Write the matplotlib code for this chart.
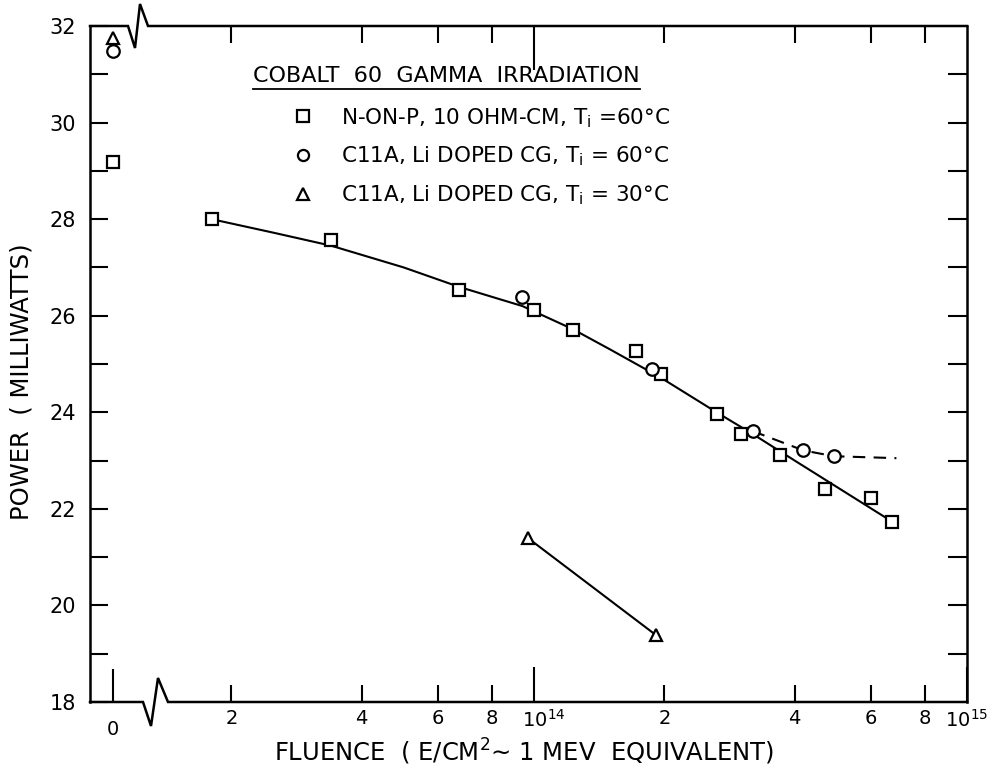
import matplotlib
matplotlib.use("Agg")
import matplotlib.pyplot as plt
from matplotlib.lines import Line2D
from matplotlib.ticker import FixedLocator, FixedFormatter, NullFormatter
from matplotlib.transforms import IdentityTransform, ScaledTranslation

plt.rcParams['font.family'] = ['DejaVu Sans']
plt.rcParams['mathtext.fontset'] = 'dejavusans'

# ---------------- data ----------------
zero_flu = [0.0]
zero_sq_pow = [29.18]
zero_circ_pow = [31.49]
zero_tri_pow = [31.75]

sq_flu = [1.8e13, 3.4e13, 6.7e13, 1.0e14, 1.23e14, 1.72e14, 1.96e14,
          2.64e14, 3.0e14, 3.7e14, 4.7e14, 6.0e14, 6.7e14]
sq_pow = [28.0, 27.57, 26.54, 26.12, 25.71, 25.27, 24.79,
          23.97, 23.56, 23.11, 22.41, 22.22, 21.73]

circ_flu = [9.4e13, 1.87e14, 3.2e14, 4.19e14, 4.93e14]
circ_pow = [26.38, 24.90, 23.61, 23.21, 23.09]

tri_flu = [9.7e13, 1.91e14]
tri_pow = [21.39, 19.39]

# hand-drawn fit through the N-on-P points
fit_flu = [1.8e13, 2.5e13, 3.4e13, 5.0e13, 6.7e13, 9.4e13, 1.23e14,
           1.5e14, 1.96e14, 2.64e14, 3.2e14, 4.0e14, 6.73e14]
fit_pow = [28.0, 27.72, 27.45, 27.0, 26.6, 26.2, 25.72,
           25.3, 24.72, 24.0, 23.55, 23.0, 21.73]

# dashed curve through the Li-doped (60 C) points
dash_flu = [3.2e14, 4.19e14, 4.93e14, 6.87e14]
dash_pow = [23.61, 23.21, 23.09, 23.05]

series_labels = ["N-ON-P, 10 OHM-CM, T$_\\mathregular{i}$ =60°C",
                 "C11A, Li DOPED CG, T$_\\mathregular{i}$ = 60°C",
                 "C11A, Li DOPED CG, T$_\\mathregular{i}$ = 30°C"]
title_text = "COBALT  60  GAMMA  IRRADIATION"
ylabel_text = "POWER  ( MILLIWATTS)"
xlabel_text = "FLUENCE  ( E/CM$^2$∼ 1 MEV  EQUIVALENT)"

y_major = [18, 20, 22, 24, 26, 28, 30, 32]
y_minor = [19, 21, 23, 25, 27, 29, 31]
x_minor = [2e13, 4e13, 6e13, 8e13, 2e14, 4e14, 6e14, 8e14]
x_minor_labels = ["2", "4", "6", "8", "2", "4", "6", "8"]
x_major = [1e14, 1e15]
x_major_labels = ["$10^{14}$", "$10^{15}$"]

# ---------------- layout ----------------
W, H = 997, 779
fig = plt.figure(figsize=(W / 100, H / 100), dpi=100)
fig.patch.set_facecolor('white')

def fx(px):
    return px / W

def fy(py):
    return 1 - py / H

left_px, right_px, top_px, bot_px = 90, 967, 26, 702
split_px = 136
decade_px = 433.0
e13_px = 101.0

ax0 = fig.add_axes([fx(left_px), fy(bot_px), (split_px - left_px) / W, (bot_px - top_px) / H])
ax = fig.add_axes([fx(split_px), fy(bot_px), (right_px - split_px) / W, (bot_px - top_px) / H])

lw = 1.5
mkw = dict(ls='none', ms=9, mfc='white', mec='black', mew=1.6, zorder=4, clip_on=False)

# ----- zero-fluence axis -----
ax0.set_xlim(-1, 1)
ax0.set_ylim(18, 32)
for s in ['top', 'bottom', 'right']:
    ax0.spines[s].set_visible(False)
ax0.spines['left'].set_linewidth(1.8)
ax0.patch.set_visible(False)
ax0.yaxis.set_major_locator(FixedLocator(y_major))
ax0.yaxis.set_minor_locator(FixedLocator(y_minor))
ax0.tick_params(axis='y', which='both', direction='in', length=13, width=1.5,
                labelsize=15, pad=10)
ax0.set_xticks(zero_flu)
ax0.set_xticklabels(["0"])
ax0.tick_params(axis='x', which='both', direction='in', length=24, width=1.5,
                labelsize=14, pad=13, top=False)
ax0.plot(zero_flu, zero_sq_pow, marker='s', **mkw)
ax0.plot(zero_flu, zero_circ_pow, marker='o', **mkw)
ax0.plot(zero_flu, zero_tri_pow, marker='^', **mkw)

# ----- main log axis -----
ax.set_xscale('log')
ax.set_xlim(10 ** (13 + (split_px - e13_px) / decade_px), 1e15)
ax.set_ylim(18, 32)
for s in ['top', 'bottom', 'left']:
    ax.spines[s].set_visible(False)
ax.spines['right'].set_linewidth(1.8)
ax.patch.set_visible(False)
ax.yaxis.tick_right()
ax.yaxis.set_major_locator(FixedLocator(y_minor + y_major[1:-1]))
ax.yaxis.set_minor_locator(FixedLocator([]))
ax.tick_params(axis='y', which='both', direction='in', length=14, width=1.5,
               labelright=False, labelleft=False, left=False)
ax.xaxis.set_major_locator(FixedLocator(x_major))
ax.xaxis.set_major_formatter(FixedFormatter(x_major_labels))
ax.xaxis.set_minor_locator(FixedLocator(x_minor))
ax.xaxis.set_minor_formatter(FixedFormatter(x_minor_labels))
ax.tick_params(axis='x', which='major', direction='in', length=25, width=1.5,
               labelsize=14, pad=5, top=False)
ax.tick_params(axis='x', which='minor', direction='in', length=12.5, width=1.5,
               labelsize=14, pad=5, top=False)

axt = ax.twiny()
axt.set_xscale('log')
axt.set_xlim(ax.get_xlim())
for s in axt.spines.values():
    s.set_visible(False)
axt.patch.set_visible(False)
axt.xaxis.set_major_locator(FixedLocator([1e14]))
axt.xaxis.set_minor_locator(FixedLocator(x_minor))
axt.xaxis.set_major_formatter(NullFormatter())
axt.xaxis.set_minor_formatter(NullFormatter())
axt.tick_params(axis='x', which='major', direction='in', length=32, width=1.5)
axt.tick_params(axis='x', which='minor', direction='in', length=12.5, width=1.5)

ax.plot(fit_flu, fit_pow, color='black', lw=lw, zorder=2)
ax.plot(dash_flu, dash_pow, color='black', lw=lw, ls=(0, (6, 4)), zorder=2)
ax.plot(tri_flu, tri_pow, color='black', lw=lw, zorder=2)
ax.plot(sq_flu, sq_pow, marker='s', **mkw)
ax.plot(circ_flu, circ_pow, marker='o', **mkw)
ax.plot(tri_flu, tri_pow, marker='^', **mkw)

# ----- frame with axis breaks -----
def pxline(xs, ys, **kw):
    fig.add_artist(Line2D([fx(x) for x in xs], [fy(y) for y in ys],
                          transform=fig.transFigure, color='black', lw=1.8,
                          solid_joinstyle='miter', **kw))

pxline([left_px, 128, 135, 140, 148, right_px], [top_px, top_px, 48, 4, top_px, top_px])
pxline([left_px, 143, 151, 158, 168, right_px], [bot_px, bot_px, 726, 678, bot_px, bot_px])

# ----- legend -----
handles = [Line2D([], [], ls='none', marker=m, ms=8, mfc='white', mec='black', mew=1.6)
           for m in ['s', 'o', '^']]
leg = fig.legend(handles, series_labels, loc='upper left',
                 bbox_to_anchor=(fx(293), fy(106)), bbox_transform=fig.transFigure,
                 frameon=False, borderpad=0, borderaxespad=0, handlelength=0.9,
                 handletextpad=1.35, labelspacing=0.7, fontsize=15.5)

tt = fig.text(fx(253), fy(76), title_text, fontsize=16, va='center', ha='left')

fig.text(fx(22), fy(382), ylabel_text, rotation=90, ha='center', va='center', fontsize=17.5)
fig.text(fx(524), fy(752), xlabel_text, ha='center', va='center', fontsize=17.5)

fig.canvas.draw()
# the 10^14 label sits a little right of its tick in the reference
lab14 = ax.xaxis.get_major_ticks()[0].label1
lab14.set_transform(lab14.get_transform() + ScaledTranslation(10 / 100, 0, fig.dpi_scale_trans))

bb = tt.get_window_extent()
fig.add_artist(Line2D([bb.x0, bb.x1], [bb.y0 - 3, bb.y0 - 3], transform=IdentityTransform(),
                      color='black', lw=1.3))

fig.savefig('out.png', dpi=100, facecolor='white')
